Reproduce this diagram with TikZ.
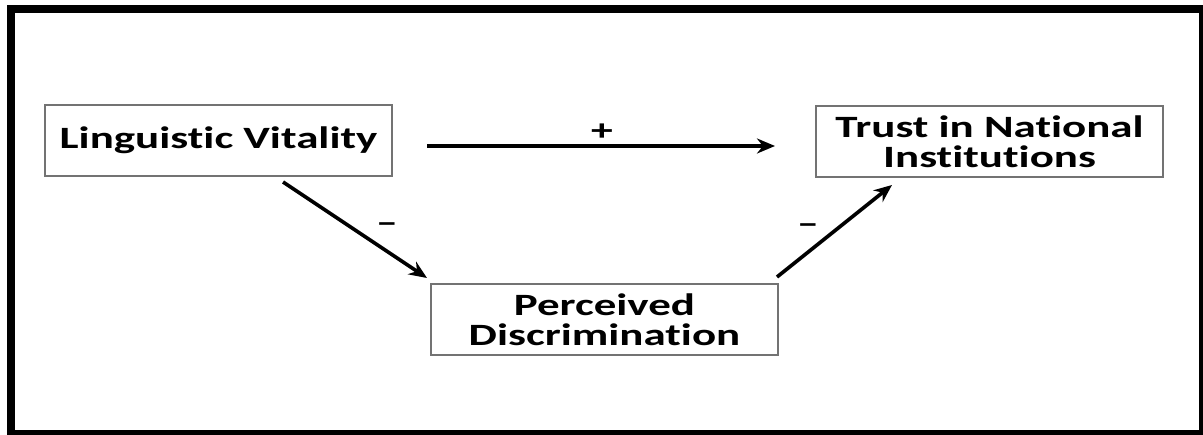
\documentclass[tikz,border=0pt]{standalone}
\usepackage{fontspec}
\setmainfont{Carlito}[FakeStretch=1.45,Ligatures=NoCommon,RawFeature=-liga;-dlig]
\usetikzlibrary{arrows.meta}
\begin{document}
\begin{tikzpicture}[x=1pt,y=-1pt,
  box/.style={draw=black!55,line width=1.2pt,minimum width=347pt,minimum height=71pt,inner sep=0pt,align=center,
    font=\fontsize{31}{30}\selectfont\bfseries},
  conn/.style={line width=3.6pt,-{Stealth[length=18pt,width=15pt]}},
  sign/.style={font=\fontsize{30}{30}\selectfont\bfseries}]
\useasboundingbox (0,0) rectangle (1203,435);
\fill[black] (7,5) rectangle (1203,435);
\fill[white] (15,13) rectangle (1199,430);
\node[box] (lv) at (218.5,140.5) {Linguistic Vitality};
\node[box] (tni) at (989.5,141.5) {Trust in National\\Institutions};
\node[box] (pd) at (604.5,319.5) {Perceived\\Discrimination};
\coordinate (h1) at (427,146);
\coordinate (h2) at (775,146);
\coordinate (d1) at (283,182);
\coordinate (d2) at (427,278);
\coordinate (u1) at (777,277);
\coordinate (u2) at (892,185);
\draw[conn] (h1) -- (h2);
\draw[conn] (d1) -- (d2);
\draw[conn] (u1) -- (u2);
\node[sign] (plus) at (602,132) {+};
\node[sign] (m1) at (387,228) {\textendash};
\node[sign] (m2) at (808,229) {\textendash};
\end{tikzpicture}
\end{document}
